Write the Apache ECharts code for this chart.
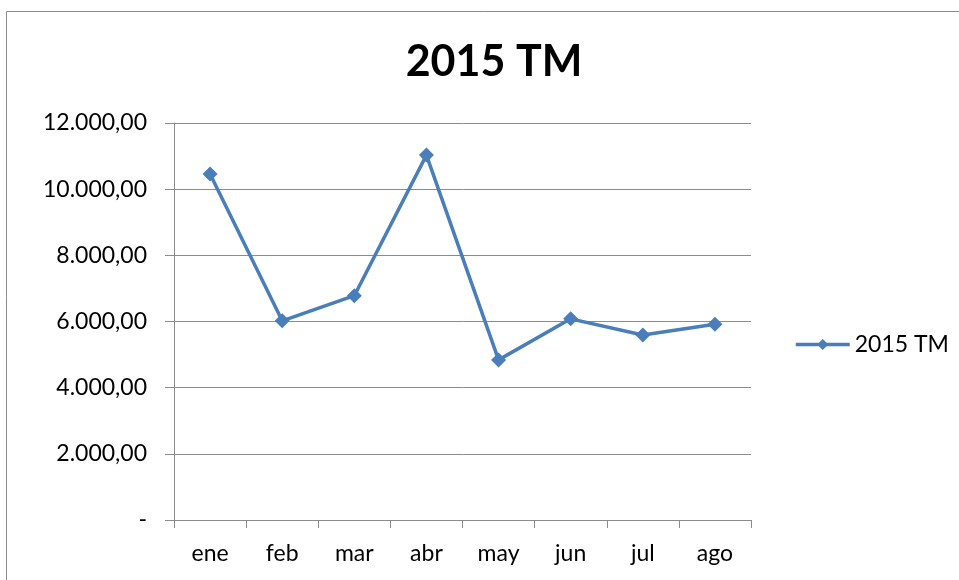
<!DOCTYPE html>
<html>
<head>
<meta charset="utf-8">
<script src="https://cdn.jsdelivr.net/npm/echarts@6/dist/echarts.min.js"></script>
<style>
  html, body { margin: 0; padding: 0; background: #fff; }
  #chart { width: 959px; height: 580px; }
</style>
</head>
<body>
<div id="chart"></div>
<script>
  // datos
  var meses = ['ene', 'feb', 'mar', 'abr', 'may', 'jun', 'jul', 'ago'];
  var toneladas = [10460, 6020, 6780, 11030, 4840, 6080, 5590, 5920];
  var serieNombre = '2015 TM';

  function fmt(v) {
    if (v === 0) return '-';
    var s = Math.round(v).toString().replace(/\B(?=(\d{3})+(?!\d))/g, '.');
    return s + ',00';
  }

  var chart = echarts.init(document.getElementById('chart'));
  chart.setOption({
    animation: false,
    textStyle: { fontFamily: 'Lato' },
    graphic: [{
      type: 'rect',
      shape: { x: 6.5, y: 11.5, width: 1000, height: 600 },
      style: { fill: 'none', stroke: '#8c8c8c', lineWidth: 1 }
    }],
    title: {
      text: '2015 TM',
      left: 489,
      textAlign: 'center',
      top: 36,
      textStyle: { fontSize: 43, fontWeight: 'bold', color: '#000', fontFamily: 'Lato' }
    },
    legend: {
      data: [serieNombre],
      left: 789,
      top: 328,
      itemWidth: 54,
      itemHeight: 14,
      itemGap: 6,
      lineStyle: { width: 3.5 },
      textStyle: { fontSize: 23, color: '#000', fontFamily: 'Lato' }
    },
    grid: { left: 174, right: 208, top: 123, bottom: 60 },
    xAxis: {
      type: 'category',
      data: meses,
      boundaryGap: true,
      axisLine: { lineStyle: { color: '#8c8c8c', width: 1 } },
      axisTick: { show: true, length: 8, lineStyle: { color: '#8c8c8c' } },
      axisLabel: { fontSize: 23, color: '#000', margin: 22 }
    },
    yAxis: {
      type: 'value',
      min: 0,
      max: 12000,
      interval: 2000,
      axisLine: { show: true, lineStyle: { color: '#8c8c8c', width: 1 } },
      axisTick: { show: true, inside: false, length: 9, lineStyle: { color: '#8c8c8c' } },
      splitLine: { lineStyle: { color: '#8c8c8c', width: 1 } },
      axisLabel: { fontSize: 23, color: '#000', margin: 27, formatter: fmt }
    },
    series: [{
      name: serieNombre,
      type: 'line',
      data: toneladas,
      symbol: 'diamond',
      symbolSize: 15,
      lineStyle: { color: '#4a7ebb', width: 3.5 },
      itemStyle: { color: '#4a7ebb' }
    }]
  });
</script>
</body>
</html>
